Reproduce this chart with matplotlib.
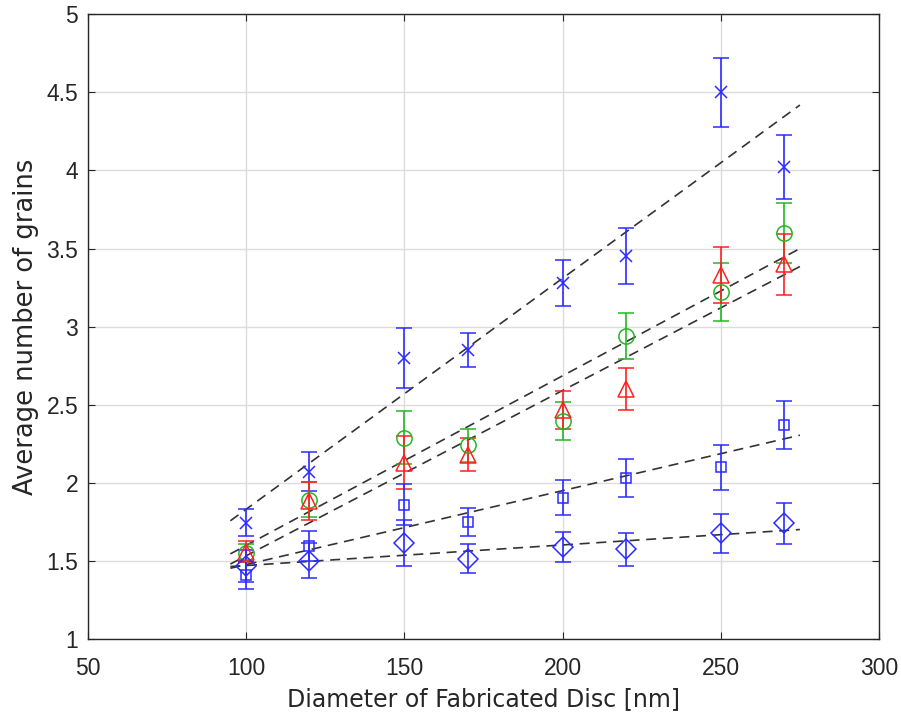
import matplotlib
matplotlib.use("Agg")
import matplotlib.pyplot as plt
import numpy as np

plt.rcParams['font.family'] = ['Liberation Sans', 'DejaVu Sans']

diam = [100, 120, 150, 170, 200, 220, 250, 270]

cross_y = [1.745, 2.07, 2.80, 2.85, 3.28, 3.45, 4.50, 4.02]
cross_e = [0.085, 0.125, 0.19, 0.11, 0.145, 0.18, 0.22, 0.205]

circ_y = [1.55, 1.893, 2.29, 2.24, 2.395, 2.94, 3.22, 3.60]
circ_e = [0.06, 0.11, 0.17, 0.105, 0.12, 0.145, 0.185, 0.19]

tri_y = [1.56, 1.885, 2.13, 2.18, 2.465, 2.60, 3.33, 3.40]
tri_e = [0.07, 0.12, 0.17, 0.105, 0.12, 0.135, 0.18, 0.195]

sq_y = [1.41, 1.597, 1.86, 1.75, 1.905, 2.03, 2.10, 2.37]
sq_e = [0.09, 0.096, 0.13, 0.09, 0.11, 0.12, 0.145, 0.155]

dia_y = [1.468, 1.502, 1.615, 1.515, 1.587, 1.575, 1.677, 1.741]
dia_e = [0.10, 0.114, 0.145, 0.095, 0.095, 0.105, 0.125, 0.13]

fit_x = [95, 275]
fit_cross = [1.757, 4.419]
fit_circ = [1.545, 3.50]
fit_tri = [1.48, 3.385]
fit_sq = [1.453, 2.305]
fit_dia = [1.464, 1.701]

xticks = [50, 100, 150, 200, 250, 300]
yticks = [1, 1.5, 2, 2.5, 3, 3.5, 4, 4.5, 5]
yticklabels = ['1', '1.5', '2', '2.5', '3', '3.5', '4', '4.5', '5']

BLUE = '#2b2bff'
GREEN = '#22b822'
RED = '#ff2020'

fig = plt.figure(figsize=(9.01, 7.2), dpi=100)
ax = fig.add_axes([88/901, 81/720, (879-88)/901, (639-14.3)/720])

for fy in [fit_cross, fit_circ, fit_tri, fit_sq, fit_dia]:
    ax.plot(fit_x, fy, linestyle=(0, (6, 4)), color='#333333', lw=1.2, zorder=3)

series = [
    (cross_y, cross_e, 'x', BLUE, 8),
    (circ_y, circ_e, 'o', GREEN, 11),
    (tri_y, tri_e, '^', RED, 11),
    (sq_y, sq_e, 's', BLUE, 7.5),
    (dia_y, dia_e, 'D', BLUE, 10),
]
for y, e, m, c, ms in series:
    ax.errorbar(diam, y, yerr=e, fmt=m, color=c, mfc='none', mec=c, ms=ms,
                mew=1.1, elinewidth=1.2, capsize=6, capthick=1.2, zorder=4)

ax.set_xlim(50, 300)
ax.set_ylim(1, 5)
ax.set_xticks(xticks)
ax.set_yticks(yticks)
ax.set_xticklabels([str(v) for v in xticks])
ax.set_yticklabels(yticklabels)
ax.grid(True, color='#dcdcdc', lw=1.0)
ax.set_axisbelow(True)
ax.tick_params(direction='in', top=True, right=True, length=5, width=0.8,
               color='#262626', labelsize=16.5, labelcolor='#262626')
ax.tick_params(axis='x', pad=13)
ax.tick_params(axis='y', pad=7)
for s in ax.spines.values():
    s.set_color('#262626')
    s.set_linewidth(1.0)

ax.set_xlabel('Diameter of Fabricated Disc [nm]', fontsize=17, color='#262626',
              labelpad=5, family=['DejaVu Sans'])
ax.set_ylabel('Average number of grains', fontsize=18.5, color='#262626',
              labelpad=5, family=['DejaVu Sans'])

fig.savefig('out.png', dpi=100)
